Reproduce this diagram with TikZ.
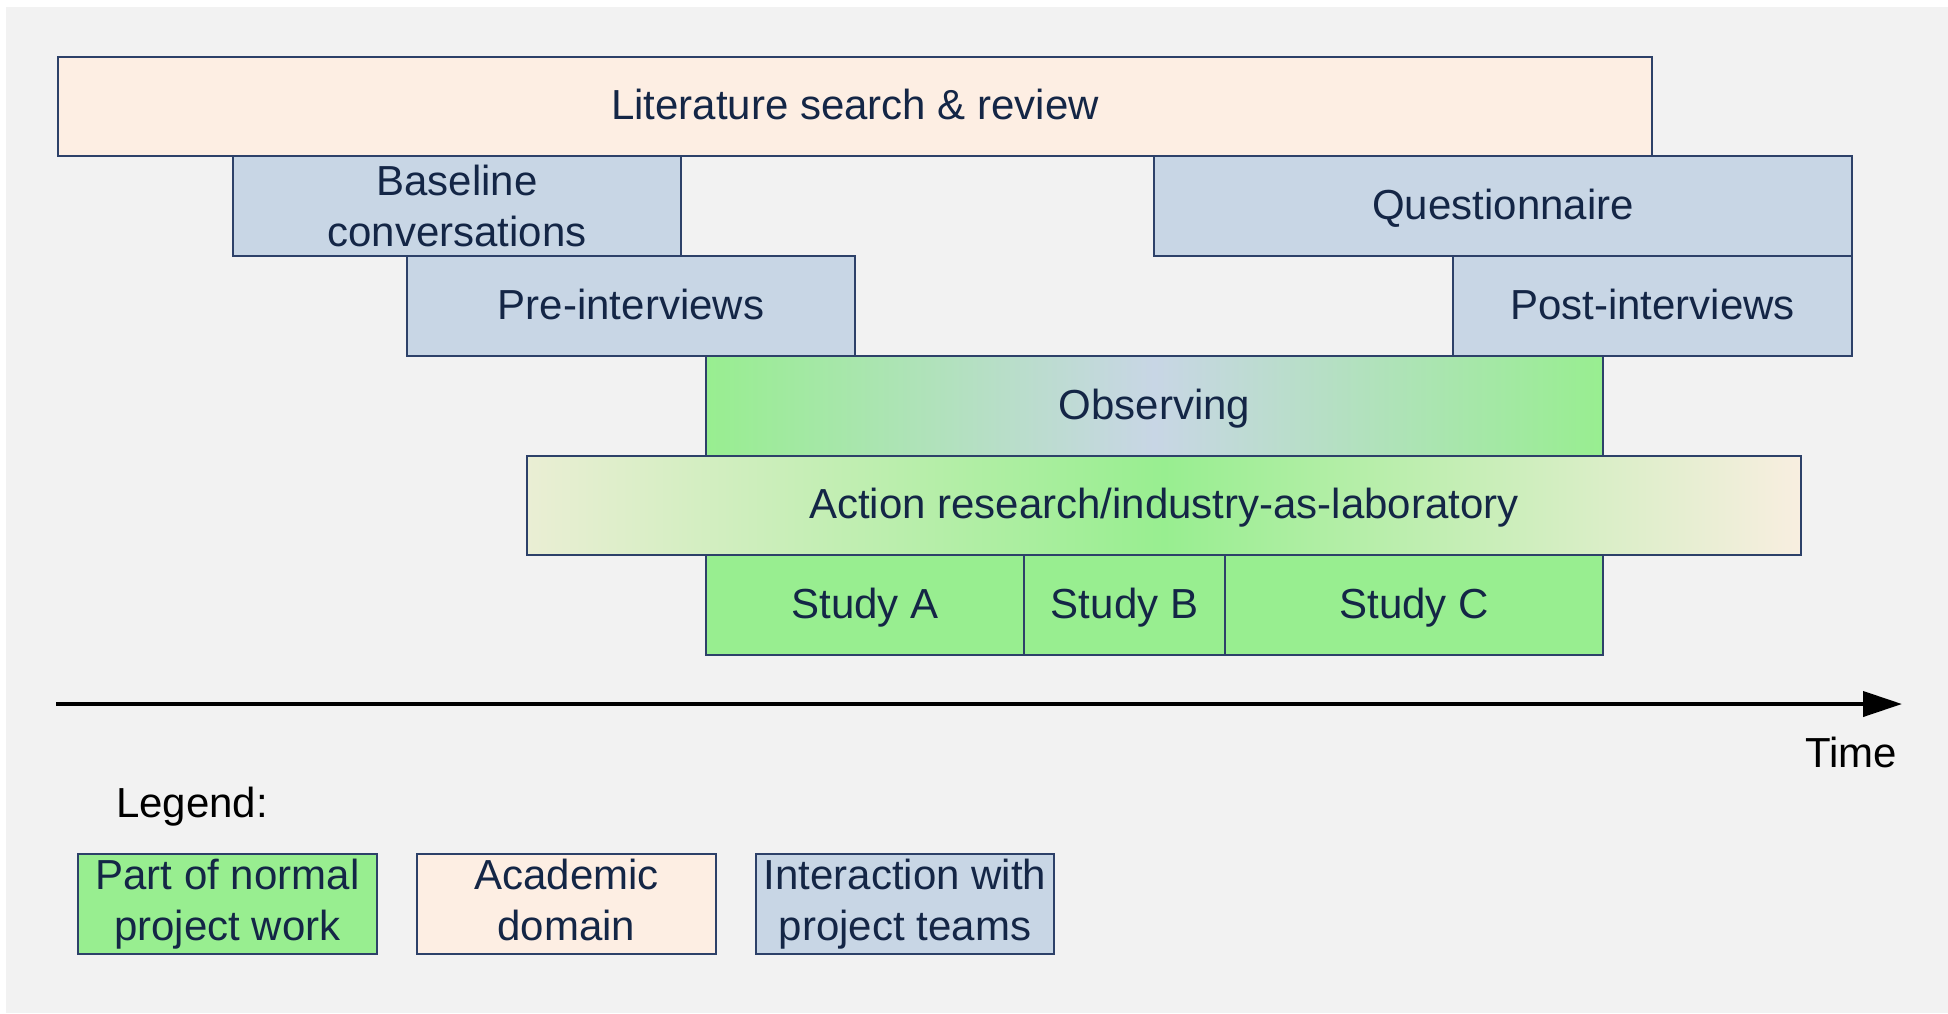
\documentclass[tikz,border=0pt]{standalone}
\usepackage{fontspec}
\setmainfont{Liberation Sans}
\usetikzlibrary{arrows.meta}
\definecolor{bgcol}{RGB}{242,242,242}
\definecolor{peach}{RGB}{253,238,227}
\definecolor{bluegray}{RGB}{200,214,229}
\definecolor{lgreen}{RGB}{152,238,144}
\definecolor{navytext}{RGB}{20,38,70}
\definecolor{bordercol}{RGB}{45,65,105}
\definecolor{creamgreen}{RGB}{234,238,212}
\definecolor{creampeach}{RGB}{248,238,224}
\tikzset{
  box/.style={draw=bordercol, line width=1.5pt, inner sep=0pt, outer sep=0pt,
    anchor=north west, text=navytext, font=\fontsize{42}{51}\selectfont,
    align=center},
  onel/.style={text height=32pt, text depth=6pt},
  acad/.style={box, fill=peach},
  inter/.style={box, fill=bluegray},
  normal/.style={box, fill=lgreen},
  plain/.style={text=black, font=\fontsize{42}{51}\selectfont, inner sep=0pt, anchor=base west},
  timearrow/.style={line width=4pt, -{Triangle[length=39pt,width=25pt]}}
}
\begin{document}
\begin{tikzpicture}[x=1pt,y=-1pt]
\useasboundingbox (0,0) rectangle (1948,1013);
\fill[bgcol] (6,7) rectangle (1948,1013);
% rows
\node[acad, onel, minimum width=1594pt, minimum height=99pt] (lit) at (58,57) {Literature search \& review};
\node[inter, minimum width=448pt, minimum height=100pt] (base) at (233,156) {Baseline\\conversations};
\node[inter, onel, minimum width=698pt, minimum height=100pt] (quest) at (1154,156) {Questionnaire};
\node[inter, onel, minimum width=448pt, minimum height=100pt] (pre) at (407,256) {Pre-interviews};
\node[inter, onel, minimum width=399pt, minimum height=100pt] (post) at (1453,256) {Post-interviews};
\node[box, onel, left color=lgreen, right color=lgreen, middle color=bluegray, minimum width=897pt, minimum height=100pt] (obs) at (706,356) {Observing};
\node[box, onel, left color=creamgreen, right color=creampeach, middle color=lgreen, minimum width=1274pt, minimum height=99pt] (act) at (527,456) {Action research/industry-as-laboratory};
\node[normal, onel, minimum width=318pt, minimum height=100pt] (sa) at (706,555) {Study A};
\node[normal, onel, minimum width=201pt, minimum height=100pt] (sb) at (1024,555) {Study B};
\node[normal, onel, minimum width=378pt, minimum height=100pt] (sc) at (1225,555) {Study C};
% time axis
\coordinate (tstart) at (56,704);
\coordinate (tend) at (1902,704);
\draw[timearrow] (tstart) -- (tend);
\node[plain] (time) at (1805,767) {Time};
% legend
\node[plain] (leg) at (116,817) {Legend:};
\node[normal, minimum width=299pt, minimum height=100pt] (l1) at (78,854) {Part of normal\\project work};
\node[acad, minimum width=299pt, minimum height=100pt] (l2) at (417,854) {Academic\\domain\vphantom{j}};
\node[inter, minimum width=298pt, minimum height=100pt] (l3) at (756,854) {Interaction with\\project teams};
\end{tikzpicture}
\end{document}
